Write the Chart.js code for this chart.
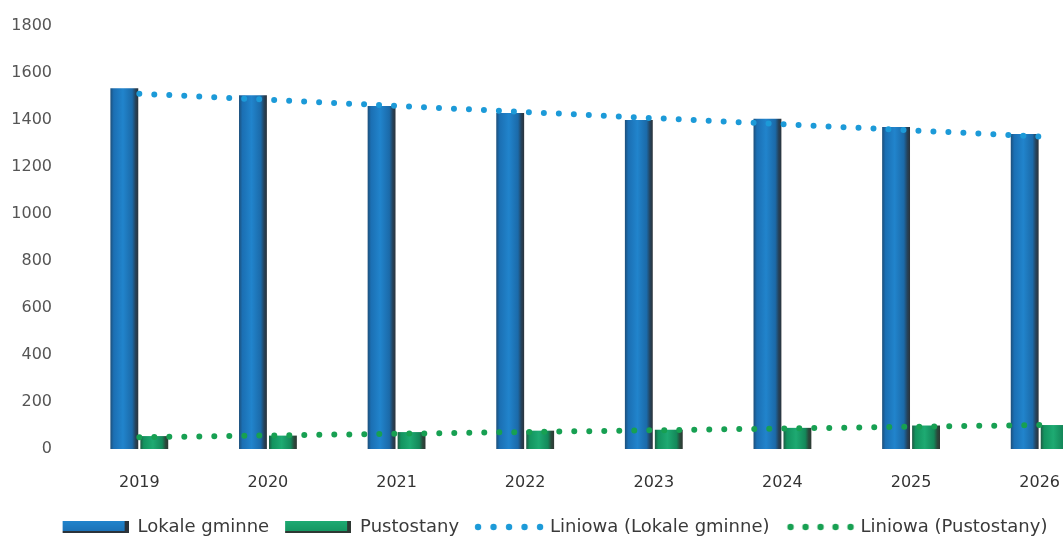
<!DOCTYPE html>
<html>
<head>
<meta charset="utf-8">
<script src="https://cdn.jsdelivr.net/npm/chart.js@4/dist/chart.umd.min.js"></script>
<style>
    html, body { margin: 0; padding: 0; background: #ffffff; overflow: hidden; }
    #wrap { width: 1110px; height: 550px; position: relative; }
</style>
</head>
<body>
<div id="wrap"><canvas id="chart"></canvas></div>
<script>
// Data
const lata = ['2019', '2020', '2021', '2022', '2023', '2024', '2025', '2026'];
const lokaleGminne = [1535, 1505, 1460, 1430, 1400, 1405, 1370, 1340];
const pustostany = [55, 57, 72, 78, 82, 90, 100, 102];
// Trend lines (Excel "Liniowa"), end points
const trendLokale = [1512, null, null, null, null, null, null, 1330];
const trendPustostany = [50, null, null, null, null, null, null, 102];
const yTicks = [0, 200, 400, 600, 800, 1000, 1200, 1400, 1600, 1800];

const CAT_PCT = 0.466;
const BAR_PCT = 0.93;
const FONT = "'DejaVu Sans', sans-serif";
const BOX_W = 72;

// Cylinder-like shading across each bar
function barFill(ctx, stops, side) {
    const chart = ctx.chart;
    const x = chart.scales && chart.scales.x;
    if (ctx.type !== 'data' || !x || !x.width) return stops[2][1];
    const slot = (x.width / lata.length) * CAT_PCT / 2;
    const cx = x.getPixelForValue(ctx.dataIndex) + side * slot / 2;
    const w = slot * BAR_PCT;
    const g = chart.ctx.createLinearGradient(cx - w / 2, 0, cx + w / 2, 0);
    stops.forEach(s => g.addColorStop(s[0], s[1]));
    return g;
}

const blueStops = [[0, '#1d4f7a'], [0.12, '#1b6fb3'], [0.45, '#2184cc'], [0.78, '#1b6aa9'], [0.9, '#25435c'], [1, '#2b333a']];
const greenStops = [[0, '#1f5a44'], [0.12, '#13935f'], [0.45, '#1eaa72'], [0.78, '#14885a'], [0.9, '#2a4a3c'], [1, '#2e3833']];

// Legend swatches (drawn as point-style images)
function swatchBar(stops) {
    const c = document.createElement('canvas');
    c.width = BOX_W; c.height = 12;
    const x = c.getContext('2d');
    const g = x.createLinearGradient(0, 0, 0, 12);
    g.addColorStop(0, stops[2][1]);
    g.addColorStop(1, stops[1][1]);
    x.fillStyle = g;
    x.fillRect(6, 0, BOX_W - 6, 12);
    x.fillStyle = stops[5][1];
    x.fillRect(BOX_W - 4, 0, 4, 12);
    x.fillRect(6, 10, BOX_W - 6, 2);
    return c;
}

// dots canvas is wider than the legend box and overhangs to the left
function swatchDots(color, count, gap) {
    const c = document.createElement('canvas');
    c.width = 100; c.height = 12;
    const x = c.getContext('2d');
    x.fillStyle = color;
    for (let i = 0; i < count; i++) {
        x.beginPath();
        x.arc(85 - i * gap, 6, 3.2, 0, Math.PI * 2);
        x.fill();
    }
    return c;
}

const legendItems = [
    { text: 'Lokale gminne', pointStyle: swatchBar(blueStops) },
    { text: 'Pustostany', pointStyle: swatchBar(greenStops) },
    { text: 'Liniowa (Lokale gminne)', pointStyle: swatchDots('#1c9ad8', 5, 15.5) },
    { text: 'Liniowa (Pustostany)', pointStyle: swatchDots('#17a052', 5, 15) }
];

new Chart(document.getElementById('chart').getContext('2d'), {
    type: 'bar',
    data: {
        labels: lata,
        datasets: [
            {
                label: 'Lokale gminne',
                data: lokaleGminne,
                backgroundColor: ctx => barFill(ctx, blueStops, -1),
                borderWidth: 0,
                categoryPercentage: CAT_PCT,
                barPercentage: BAR_PCT,
                order: 2
            },
            {
                label: 'Pustostany',
                data: pustostany,
                backgroundColor: ctx => barFill(ctx, greenStops, 1),
                borderWidth: 0,
                categoryPercentage: CAT_PCT,
                barPercentage: BAR_PCT,
                order: 2
            },
            {
                type: 'line',
                label: 'Liniowa (Lokale gminne)',
                data: trendLokale,
                spanGaps: true,
                borderColor: '#1c9ad8',
                borderWidth: 6,
                borderDash: [0, 15],
                borderCapStyle: 'round',
                pointRadius: 0,
                order: 1
            },
            {
                type: 'line',
                label: 'Liniowa (Pustostany)',
                data: trendPustostany,
                spanGaps: true,
                borderColor: '#17a052',
                borderWidth: 6,
                borderDash: [0, 15],
                borderCapStyle: 'round',
                pointRadius: 0,
                order: 1
            }
        ]
    },
    options: {
        responsive: true,
        maintainAspectRatio: false,
        animation: false,
        layout: {
            padding: { top: 0, right: 6, bottom: 4, left: 0 }
        },
        plugins: {
            tooltip: { enabled: false },
            legend: {
                position: 'bottom',
                labels: {
                    usePointStyle: true,
                    pointStyleWidth: BOX_W,
                    boxHeight: 12,
                    padding: 10,
                    color: '#3a3a3a',
                    font: { family: FONT, size: 18 },
                    generateLabels: function() {
                        return legendItems.map((it, i) => ({
                            text: it.text,
                            pointStyle: it.pointStyle,
                            fillStyle: 'transparent',
                            strokeStyle: 'transparent',
                            lineWidth: 0,
                            fontColor: '#3a3a3a',
                            datasetIndex: i,
                            hidden: false
                        }));
                    }
                }
            }
        },
        scales: {
            x: {
                afterFit: scale => { scale.height = 59; },
                grid: { display: false, drawTicks: false },
                border: { display: false },
                ticks: {
                    color: '#333333',
                    padding: 24,
                    font: { family: FONT, size: 16 }
                }
            },
            y: {
                min: 0,
                max: 1800,
                afterFit: scale => {
                    scale.width = 75;
                    scale.paddingTop = 26;
                    scale.paddingBottom = 0;
                },
                afterBuildTicks: scale => { scale.ticks = yTicks.map(v => ({ value: v })); },
                grid: { display: false, drawTicks: false },
                border: { display: false },
                ticks: {
                    color: '#555555',
                    padding: 23,
                    font: { family: FONT, size: 16 },
                    callback: value => String(value)
                }
            }
        }
    }
});
</script>
</body>
</html>
